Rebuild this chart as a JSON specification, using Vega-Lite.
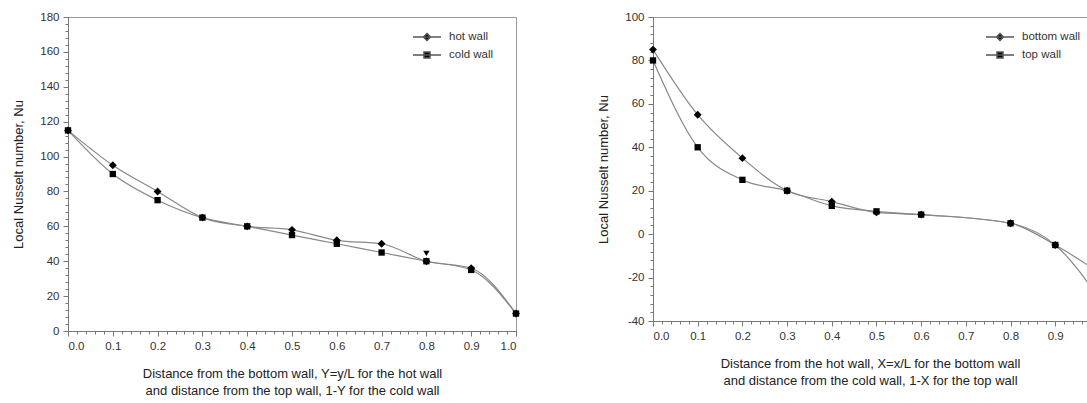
{
  "$schema": "https://vega.github.io/schema/vega-lite/v6.json",
  "padding": {"left": 12, "top": 10, "right": 0, "bottom": 0},
  "spacing": 76,
  "resolve": {"scale": {"shape": "independent", "size": "independent"}, "legend": {"shape": "independent"}},
  "config": {
    "font": "Liberation Sans",
    "view": {"stroke": "#999", "strokeWidth": 1},
    "axis": {
      "domainColor": "#777", "tickColor": "#777", "labelColor": "#333", "titleColor": "#222",
      "labelFontSize": 11.5, "titleFontSize": 13, "titleFontWeight": "normal", "grid": false,
      "labelFont": "Liberation Sans", "titleFont": "Liberation Sans", "labelPadding": 4
    },
    "legend": {"orient": "none", "title": null, "padding": 0, "symbolSize": 196, "labelOffset": 14, "rowPadding": 3,
      "labelFontSize": 11.5, "labelColor": "#333", "labelFont": "Liberation Sans"}
  },
  "datasets": {
    "left": [
      {"series": "hot wall", "x": 0, "nu": 115}, {"series": "hot wall", "x": 0.1, "nu": 95},
      {"series": "hot wall", "x": 0.2, "nu": 80}, {"series": "hot wall", "x": 0.3, "nu": 65},
      {"series": "hot wall", "x": 0.4, "nu": 60}, {"series": "hot wall", "x": 0.5, "nu": 58},
      {"series": "hot wall", "x": 0.6, "nu": 52}, {"series": "hot wall", "x": 0.7, "nu": 50},
      {"series": "hot wall", "x": 0.8, "nu": 40}, {"series": "hot wall", "x": 0.9, "nu": 36},
      {"series": "hot wall", "x": 1.0, "nu": 10},
      {"series": "cold wall", "x": 0, "nu": 115}, {"series": "cold wall", "x": 0.1, "nu": 90},
      {"series": "cold wall", "x": 0.2, "nu": 75}, {"series": "cold wall", "x": 0.3, "nu": 65},
      {"series": "cold wall", "x": 0.4, "nu": 60}, {"series": "cold wall", "x": 0.5, "nu": 55},
      {"series": "cold wall", "x": 0.6, "nu": 50}, {"series": "cold wall", "x": 0.7, "nu": 45},
      {"series": "cold wall", "x": 0.8, "nu": 40}, {"series": "cold wall", "x": 0.9, "nu": 35},
      {"series": "cold wall", "x": 1.0, "nu": 10}
    ],
    "extra": [{"x": 0.8, "nu": 44.5}],
    "right": [
      {"series": "bottom wall", "x": 0, "nu": 85}, {"series": "bottom wall", "x": 0.1, "nu": 55},
      {"series": "bottom wall", "x": 0.2, "nu": 35}, {"series": "bottom wall", "x": 0.3, "nu": 20},
      {"series": "bottom wall", "x": 0.4, "nu": 15}, {"series": "bottom wall", "x": 0.5, "nu": 10},
      {"series": "bottom wall", "x": 0.6, "nu": 9}, {"series": "bottom wall", "x": 0.8, "nu": 5},
      {"series": "bottom wall", "x": 0.9, "nu": -5}, {"series": "bottom wall", "x": 1.0, "nu": -18},
      {"series": "top wall", "x": 0, "nu": 80}, {"series": "top wall", "x": 0.1, "nu": 40},
      {"series": "top wall", "x": 0.2, "nu": 25}, {"series": "top wall", "x": 0.3, "nu": 20},
      {"series": "top wall", "x": 0.4, "nu": 13}, {"series": "top wall", "x": 0.5, "nu": 10.5},
      {"series": "top wall", "x": 0.6, "nu": 9}, {"series": "top wall", "x": 0.8, "nu": 5},
      {"series": "top wall", "x": 0.9, "nu": -5}, {"series": "top wall", "x": 1.0, "nu": -30}
    ]
  },
  "hconcat": [
    {
      "width": 448, "height": 314,
      "data": {"name": "left"},
      "resolve": {"scale": {"shape": "independent"}},
      "encoding": {
        "x": {"field": "x", "type": "quantitative",
          "scale": {"domain": [0, 1], "nice": false, "zero": false},
          "axis": {
            "title": ["Distance from the bottom wall, Y=y/L for the hot wall", "and distance from the top wall, 1-Y for the cold wall"],
            "titleLineHeight": 17, "titlePadding": 16,
            "values": [0,0.02,0.04,0.06,0.08,0.1,0.12,0.14,0.16,0.18,0.2,0.22,0.24,0.26,0.28,0.3,0.32,0.34,0.36,0.38,0.4,0.42,0.44,0.46,0.48,0.5,0.52,0.54,0.56,0.58,0.6,0.62,0.64,0.66,0.68,0.7,0.72,0.74,0.76,0.78,0.8,0.82,0.84,0.86,0.88,0.9,0.92,0.94,0.96,0.98,1],
            "labelExpr": "abs(datum.value*10 - round(datum.value*10)) < 1e-6 ? format(datum.value, '.1f') : ''",
            "tickSize": {"condition": {"test": "abs(datum.value*10 - round(datum.value*10)) < 1e-6", "value": 5}, "value": 3}
          }},
        "y": {"field": "nu", "type": "quantitative",
          "scale": {"domain": [0, 180], "nice": false},
          "axis": {
            "title": "Local Nusselt number, Nu", "titlePadding": 14,
            "values": [0,4,8,12,16,20,24,28,32,36,40,44,48,52,56,60,64,68,72,76,80,84,88,92,96,100,104,108,112,116,120,124,128,132,136,140,144,148,152,156,160,164,168,172,176,180],
            "labelExpr": "datum.value % 20 === 0 ? '' + datum.value : ''",
            "tickSize": {"condition": {"test": "datum.value % 20 === 0", "value": 5}, "value": 3}
          }}
      },
      "layer": [
        {"mark": {"type": "line", "interpolate": "monotone", "color": "#888", "strokeWidth": 1.2},
         "encoding": {"detail": {"field": "series"}}},
        {"mark": {"type": "point", "filled": true, "color": "black", "opacity": 1},
         "encoding": {
           "size": {"field": "series", "type": "nominal",
             "scale": {"domain": ["hot wall", "cold wall"], "range": [62, 40]}, "legend": null},
           "shape": {"field": "series", "type": "nominal",
             "scale": {"domain": ["hot wall", "cold wall"], "range": ["diamond", "square"]}, "legend": null}}},
        {"transform": [{"filter": "false"}],
         "mark": {"type": "point", "filled": true, "fill": "black", "stroke": "#555", "strokeWidth": 1, "opacity": 1},
         "encoding": {
           "shape": {"field": "series", "type": "nominal",
             "scale": {"domain": ["hot wall", "cold wall"], "range": ["M-2,0H2M0,-0.5L0.5,0L0,0.5L-0.5,0Z", "M-2,0H2M-0.43,-0.43H0.43V0.43H-0.43Z"]},
             "legend": {"legendX": 351, "legendY": 12}}}},
        {"data": {"name": "extra"},
         "mark": {"type": "point", "shape": "triangle-down", "filled": true, "color": "black", "size": 40, "opacity": 1}}
      ]
    },
    {
      "width": 434, "height": 304,
      "data": {"name": "right"},
      "resolve": {"scale": {"shape": "independent"}},
      "encoding": {
        "x": {"field": "x", "type": "quantitative",
          "scale": {"domain": [0, 0.971], "nice": false, "zero": false},
          "axis": {
            "title": ["Distance from the hot wall, X=x/L for the bottom wall", "and distance from the cold wall, 1-X for the top wall"],
            "titleLineHeight": 17, "titlePadding": 16,
            "values": [0,0.02,0.04,0.06,0.08,0.1,0.12,0.14,0.16,0.18,0.2,0.22,0.24,0.26,0.28,0.3,0.32,0.34,0.36,0.38,0.4,0.42,0.44,0.46,0.48,0.5,0.52,0.54,0.56,0.58,0.6,0.62,0.64,0.66,0.68,0.7,0.72,0.74,0.76,0.78,0.8,0.82,0.84,0.86,0.88,0.9,0.92,0.94,0.96],
            "labelExpr": "abs(datum.value*10 - round(datum.value*10)) < 1e-6 ? format(datum.value, '.1f') : ''",
            "tickSize": {"condition": {"test": "abs(datum.value*10 - round(datum.value*10)) < 1e-6", "value": 5}, "value": 3}
          }},
        "y": {"field": "nu", "type": "quantitative",
          "scale": {"domain": [-40, 100], "nice": false, "zero": false},
          "axis": {
            "title": "Local Nusselt number, Nu", "titlePadding": 14,
            "values": [-40,-36,-32,-28,-24,-20,-16,-12,-8,-4,0,4,8,12,16,20,24,28,32,36,40,44,48,52,56,60,64,68,72,76,80,84,88,92,96,100],
            "labelExpr": "datum.value % 20 === 0 ? '' + datum.value : ''",
            "tickSize": {"condition": {"test": "datum.value % 20 === 0", "value": 5}, "value": 3}
          }}
      },
      "layer": [
        {"mark": {"type": "line", "interpolate": "monotone", "color": "#888", "strokeWidth": 1.2, "clip": true},
         "encoding": {"detail": {"field": "series"}}},
        {"transform": [{"filter": "datum.x < 0.97"}],
         "mark": {"type": "point", "filled": true, "color": "black", "opacity": 1},
         "encoding": {
           "size": {"field": "series", "type": "nominal",
             "scale": {"domain": ["bottom wall", "top wall"], "range": [62, 40]}, "legend": null},
           "shape": {"field": "series", "type": "nominal",
             "scale": {"domain": ["bottom wall", "top wall"], "range": ["diamond", "square"]}, "legend": null}}},
        {"transform": [{"filter": "false"}],
         "mark": {"type": "point", "filled": true, "fill": "black", "stroke": "#555", "strokeWidth": 1, "opacity": 1},
         "encoding": {
           "shape": {"field": "series", "type": "nominal",
             "scale": {"domain": ["bottom wall", "top wall"], "range": ["M-2,0H2M0,-0.5L0.5,0L0,0.5L-0.5,0Z", "M-2,0H2M-0.43,-0.43H0.43V0.43H-0.43Z"]},
             "legend": {"legendX": 339, "legendY": 12}}}}
      ]
    }
  ]
}
